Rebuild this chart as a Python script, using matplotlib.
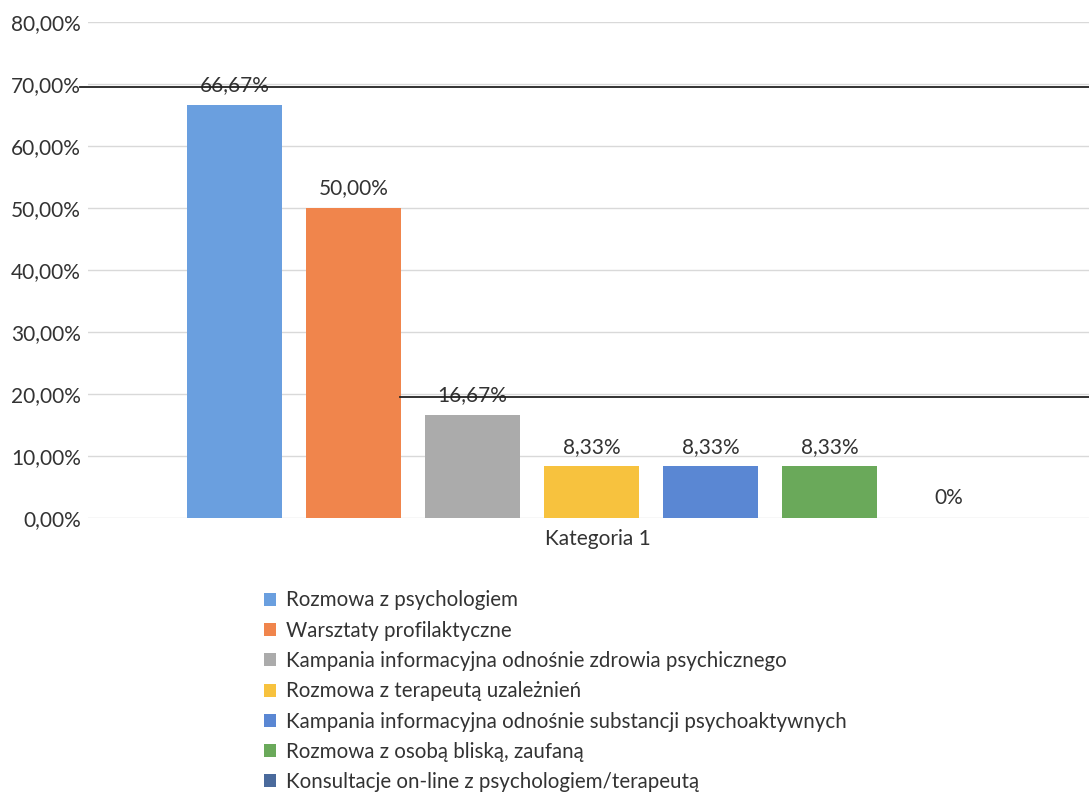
import matplotlib
matplotlib.use("Agg")
import matplotlib.pyplot as plt
from matplotlib.lines import Line2D

plt.rcParams['font.family'] = ['Lato', 'DejaVu Sans']

# dane z wykresu
category = "Kategoria 1"
series_names = [
    "Rozmowa z psychologiem",
    "Warsztaty profilaktyczne",
    "Kampania informacyjna odnośnie zdrowia psychicznego",
    "Rozmowa z terapeutą uzależnień",
    "Kampania informacyjna odnośnie substancji psychoaktywnych",
    "Rozmowa z osobą bliską, zaufaną",
    "Konsultacje on-line z psychologiem/terapeutą",
]
values = [66.67, 50.00, 16.67, 8.33, 8.33, 8.33, 0.0]
value_labels = ["66,67%", "50,00%", "16,67%", "8,33%", "8,33%", "8,33%", "0%"]
colors = ["#6a9fdf", "#f0854c", "#ababab", "#f7c23e", "#5a87d3", "#6aa95a", "#4a6a9c"]
y_ticks = [0, 10, 20, 30, 40, 50, 60, 70, 80]

fig = plt.figure(figsize=(10.89, 7.93), dpi=100)
ax = fig.add_axes([88 / 1089, 1 - 518 / 793, 1 - 88 / 1089, 496 / 793])

n = len(values)
positions = [i - (n - 1) / 2 for i in range(n)]
bars = ax.bar(positions, values, width=0.8, color=colors, label=series_names, zorder=3)

for x, v, lab in zip(positions, values, value_labels):
    ax.annotate(lab, (x, v), xytext=(0, 7), textcoords="offset points",
                ha="center", va="bottom", fontsize=15, color="#333333")

ax.set_xlim(-4.23, 4.18)
ax.set_ylim(0, 80)
ax.set_yticks(y_ticks)
ax.set_yticklabels([f"{t},00%" for t in y_ticks])
ax.set_xticks([0.05])
ax.set_xticklabels([category])
ax.tick_params(axis="both", length=0, labelsize=15, labelcolor="#333333")
ax.tick_params(axis="y", pad=5)
ax.tick_params(axis="x", pad=8)
ax.grid(axis="y", color="#d9d9d9", linewidth=1, zorder=0)
for s in ax.spines.values():
    s.set_visible(False)

# czarne linie ze skanu
fig.add_artist(Line2D([80 / 1089, 1], [1 - 87 / 793, 1 - 87 / 793], color="#222222", linewidth=1.3))
fig.add_artist(Line2D([400 / 1089, 1], [1 - 397 / 793, 1 - 397 / 793], color="#222222", linewidth=1.3))

fig.legend(handles=bars, labels=series_names, loc="upper left",
           bbox_to_anchor=(245 / 1089, 1 - 572 / 793), frameon=False,
           fontsize=14.8, handlelength=0.6, handleheight=0.6, handletextpad=0.5,
           labelspacing=0.5, labelcolor="#333333")

fig.savefig("out.png", dpi=100)
